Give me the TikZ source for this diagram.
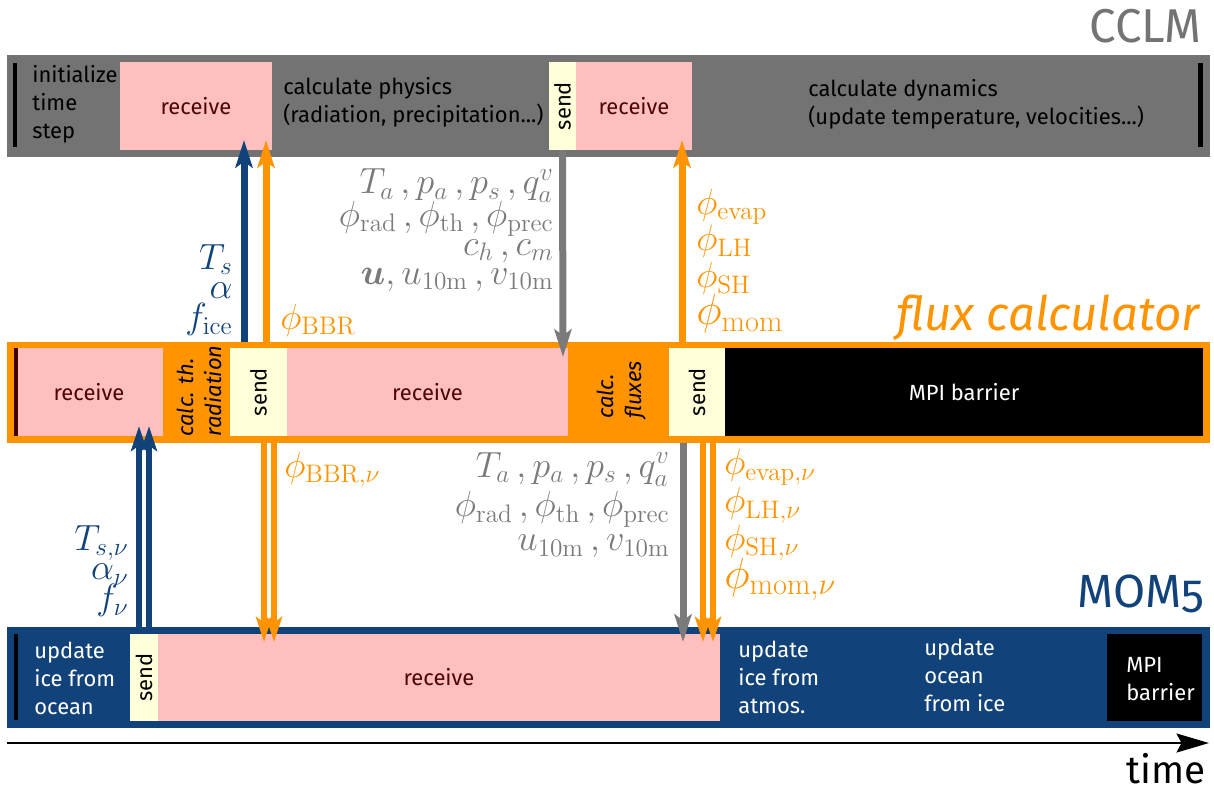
\documentclass[tikz,border=0pt]{standalone}
\usepackage{amsmath}
\usepackage[no-math]{fontspec}
\setmainfont{Fira Sans}
\usetikzlibrary{arrows.meta,fit}

\definecolor{cclmgray}{HTML}{737373}
\definecolor{lblgray}{HTML}{7A7A7A}
\definecolor{fluxorange}{HTML}{FF9300}
\definecolor{momblue}{HTML}{11427A}
\definecolor{recvpink}{HTML}{FFBFBF}
\definecolor{recvtext}{HTML}{4D0505}
\definecolor{sendyellow}{HTML}{FFFFD9}

\newcommand\boxfont{\fontsize{12.5}{16}\selectfont}
\newcommand\qtyfont[1]{\fontsize{21}{#1}\selectfont\lineskiplimit=-30pt}
\newcommand\ttlfont{\fontsize{27}{30}\selectfont}

\tikzset{
  stage/.style={fill=#1, inner sep=0pt},
  recvbox/.style={fill=recvpink, inner sep=0pt},
  recvtxt/.style={text=recvtext, inner sep=0pt, font=\boxfont},
  sendbox/.style={fill=sendyellow, inner sep=0pt},
  barrierbox/.style={fill=black, inner sep=0pt},
  steptext/.style={anchor=west, align=left, inner sep=0pt, font=\boxfont},
  vtext/.style={rotate=90, align=left, inner sep=0pt, font=\boxfont},
  startmark/.style={line width=0.1cm},
  flow/.style={line width=0.14cm, -{Stealth[length=0.55cm,width=0.34cm,inset=0.12cm]}},
  dflow/.style={line width=0.12cm, -{Stealth[length=0.5cm,width=0.32cm,inset=0.11cm]}},
  qty/.style={inner sep=0pt, font=\qtyfont{17}},
  ttl/.style={inner sep=0pt, font=\ttlfont}
}

\begin{document}
\begin{tikzpicture}[x=0.02cm,y=-0.02cm]
\useasboundingbox (0,0) rectangle (1214,796);

% CCLM row
\node[stage=cclmgray, fit={(7,55) (1210,157)}] (cclm) {};
\draw[startmark] (15,63) -- (15,147);
\draw[startmark] (1200,63) -- (1200,147);
\node[steptext] (init) at (32,104) {initialize\\time\\step};
\node[recvbox, fit={(120,62) (272,150)}] (crecvA) {};
\node[recvtxt] at (crecvA) {receive};
\node[steptext] (phys) at (283,102) {calculate physics\\(radiation, precipitation...)};
\node[sendbox, fit={(549,62) (576,150)}] (csend) {};
\node[vtext] at (csend) {send};
\node[recvbox, fit={(576,62) (692,150)}] (crecvB) {};
\node[recvtxt] at (crecvB) {receive};
\node[steptext] (dyn) at (808,104) {calculate dynamics\\(update temperature, velocities...)};
\node[ttl, text=cclmgray, anchor=east] (cclmname) at (1202,26) {CCLM};

% flux calculator row
\node[stage=fluxorange, fit={(7,342) (1210,443)}] (flux) {};
\node[recvbox, fit={(15,348) (163,436)}] (frecvA) {};
\node[recvtxt] at (frecvA) {receive};
\draw[startmark, draw=recvtext!80!black] (16,348) -- (16,436);
\node[vtext, font=\boxfont\itshape] (thrad) at (199,391) {calc. th.\\radiation};
\node[sendbox, fit={(230,348) (287,436)}] (fsendA) {};
\node[vtext] at (fsendA) {send};
\node[recvbox, fit={(287,348) (568,436)}] (frecvB) {};
\node[recvtxt] at (frecvB) {receive};
\node[vtext, font=\boxfont\itshape] (cflux) at (622,390) {calc.\\fluxes};
\node[sendbox, fit={(669,348) (725,436)}] (fsendB) {};
\node[vtext] at (fsendB) {send};
\node[barrierbox, fit={(725,348) (1203,436)}] (fbar) {};
\node[recvtxt, text=white] at (fbar) {MPI barrier};
\node[ttl, font=\ttlfont\itshape, text=fluxorange, anchor=base east] (fluxname) at (1200,330) {flux calculator};

% MOM5 row
\node[stage=momblue, fit={(7,627) (1210,728)}] (mom) {};
\draw[startmark] (16,634) -- (16,720);
\node[steptext, text=white] (updA) at (34,678) {update\\ice from\\ocean};
\node[sendbox, fit={(130,634) (158,721)}] (msend) {};
\node[vtext] at (msend) {send};
\node[recvbox, fit={(158,634) (720,721)}] (mrecv) {};
\node[recvtxt] at (mrecv) {receive};
\node[steptext, text=white] (updB) at (738,677) {update\\ice from\\atmos.};
\node[steptext, text=white] (updC) at (924,675) {update\\ocean\\from ice};
\node[barrierbox, fit={(1107,634) (1202,721)}] (mbar) {};
\node[steptext, text=white] (mbartxt) at (1126,679) {MPI\\barrier};
\node[ttl, font=\fontsize{26.5}{30}\selectfont\addfontfeatures{Numbers=OldStyle}, text=momblue, anchor=base east] (momname) at (1205,607) {MOM5};

% arrow ends
\coordinate (upA) at (244,140);
\coordinate (upB) at (266,140);
\coordinate (upC) at (682,140);
\coordinate (dnA) at (563,357);
\coordinate (upD) at (139,426);
\coordinate (upE) at (149,426);
\coordinate (dnB) at (264,642);
\coordinate (dnC) at (274,642);
\coordinate (dnD) at (683,642);
\coordinate (dnE) at (703,642);
\coordinate (dnF) at (713,642);

% flux calculator <-> CCLM
\draw[flow, momblue] (flux.north -| upA) -- (upA);
\draw[flow, fluxorange] (flux.north -| upB) -- (upB);
\draw[flow, lblgray] (csend.south) -- (dnA);
\draw[flow, fluxorange] (flux.north -| upC) -- (upC);

% MOM5 <-> flux calculator
\draw[dflow, momblue] (mom.north -| upD) -- (upD);
\draw[dflow, momblue] (mom.north -| upE) -- (upE);
\draw[dflow, fluxorange] (flux.south -| dnB) -- (dnB);
\draw[dflow, fluxorange] (flux.south -| dnC) -- (dnC);
\draw[flow, lblgray] (flux.south -| dnD) -- (dnD);
\draw[dflow, fluxorange] (flux.south -| dnE) -- (dnE);
\draw[dflow, fluxorange] (flux.south -| dnF) -- (dnF);

% exchanged quantities
\node[qty, text=momblue, anchor=east, align=right] (qA) at (233,290) {$T_s$\\$\alpha$\\$f_\mathrm{ice}$};
\node[qty, text=fluxorange, anchor=west] (qB) at (280,320) {$\phi_\mathrm{BBR}$};
\node[qty, font=\qtyfont{16.5}, text=lblgray, anchor=east, align=right] (qC) at (554,230)
  {$T_a\,, p_a\,, p_s\,, q_a^v$\\[2pt]$\phi_\mathrm{rad}\,, \phi_\mathrm{th}\,, \phi_\mathrm{prec}$\\$c_h\,, c_m$\\$\boldsymbol{u}, u_\mathrm{10m}\,, v_\mathrm{10m}$};
\node[qty, font=\qtyfont{21}, text=fluxorange, anchor=west, align=left] (qD) at (696,261)
  {$\phi_\mathrm{evap}$\\$\phi_\mathrm{LH}$\\$\phi_\mathrm{SH}$\\{\fontsize{24}{21}\selectfont$\phi_\mathrm{mom}$}};
\node[qty, text=momblue, anchor=east, align=right] (qE) at (129,571) {$T_{s,\nu}$\\$\alpha_\nu$\\$f_\nu$};
\node[qty, text=fluxorange, anchor=west] (qF) at (284,470) {$\phi_{\mathrm{BBR},\nu}$};
\node[qty, font=\qtyfont{19.5}, text=lblgray, anchor=east, align=right] (qG) at (670,505)
  {$T_a\,, p_a\,, p_s\,, q_a^v$\\[3pt]$\phi_\mathrm{rad}\,, \phi_\mathrm{th}\,, \phi_\mathrm{prec}$\\$u_\mathrm{10m}\,, v_\mathrm{10m}$};
\node[qty, font=\qtyfont{21.5}, text=fluxorange, anchor=west, align=left] (qH) at (724,525)
  {$\phi_{\mathrm{evap},\nu}$\\$\phi_{\mathrm{LH},\nu}$\\$\phi_{\mathrm{SH},\nu}$\\{\fontsize{24}{21.5}\selectfont$\phi_{\mathrm{mom},\nu}$}};

% time axis
\coordinate (t0) at (7,743);
\coordinate (t1) at (1209,743);
\draw[line width=1.3pt, -{Stealth[length=0.65cm,width=0.38cm,inset=0.1cm]}] (t0) -- (t1);
\node[ttl, font=\fontsize{22}{26}\selectfont, anchor=base east] (timelbl) at (1206,783) {time};
\end{tikzpicture}
\end{document}
